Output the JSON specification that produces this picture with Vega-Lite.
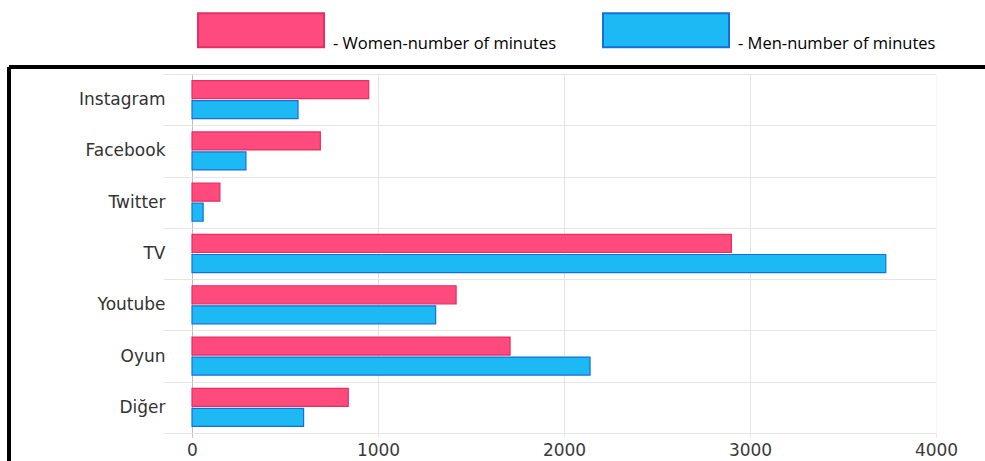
{
  "$schema": "https://vega.github.io/schema/vega-lite/v6.json",
  "autosize": "none",
  "padding": {"left": 9, "top": 67, "right": 0, "bottom": 0},
  "width": 976,
  "height": 394,
  "background": "white",
  "config": {
    "view": {"stroke": "black", "strokeWidth": 4, "strokeDash": [976, 1370, 394, 0]},
    "axis": {"labelFont": "DejaVu Sans", "titleFont": "DejaVu Sans"}
  },
  "data": {
    "values": [
      {"platform": "Instagram", "group": "Women-number of minutes", "minutes": 950},
      {"platform": "Instagram", "group": "Men-number of minutes", "minutes": 570},
      {"platform": "Facebook", "group": "Women-number of minutes", "minutes": 690},
      {"platform": "Facebook", "group": "Men-number of minutes", "minutes": 290},
      {"platform": "Twitter", "group": "Women-number of minutes", "minutes": 150},
      {"platform": "Twitter", "group": "Men-number of minutes", "minutes": 60},
      {"platform": "TV", "group": "Women-number of minutes", "minutes": 2900},
      {"platform": "TV", "group": "Men-number of minutes", "minutes": 3730},
      {"platform": "Youtube", "group": "Women-number of minutes", "minutes": 1420},
      {"platform": "Youtube", "group": "Men-number of minutes", "minutes": 1310},
      {"platform": "Oyun", "group": "Women-number of minutes", "minutes": 1710},
      {"platform": "Oyun", "group": "Men-number of minutes", "minutes": 2140},
      {"platform": "Diğer", "group": "Women-number of minutes", "minutes": 840},
      {"platform": "Diğer", "group": "Men-number of minutes", "minutes": 600}
    ]
  },
  "resolve": {"axis": {"x": "independent", "y": "independent"}},
  "layer": [
    {
      "mark": {"type": "bar", "strokeWidth": 1.2},
      "encoding": {
        "y": {
          "field": "platform",
          "type": "nominal",
          "sort": ["Instagram", "Facebook", "Twitter", "TV", "Youtube", "Oyun", "Diğer"],
          "scale": {"range": [7, 366], "paddingInner": 0, "paddingOuter": 0},
          "axis": {
            "orient": "left",
            "offset": -183,
            "title": null,
            "domain": false,
            "grid": false,
            "tickBand": "extent",
            "tickSize": 29,
            "tickColor": "#e6e6e6",
            "tickWidth": 1,
            "labelPadding": -2,
            "labelFontSize": 17,
            "labelColor": "#333333"
          }
        },
        "yOffset": {
          "field": "group",
          "type": "nominal",
          "sort": ["Women-number of minutes", "Men-number of minutes"],
          "scale": {"paddingInner": 0.1, "paddingOuter": 0.33}
        },
        "x": {
          "field": "minutes",
          "type": "quantitative",
          "scale": {"domain": [0, 4000], "range": [183, 927], "nice": false, "zero": true},
          "axis": {
            "orient": "bottom",
            "offset": -28,
            "title": null,
            "grid": false,
            "format": "d",
            "values": [0, 1000, 2000, 3000, 4000],
            "domain": true,
            "domainColor": "#e6e6e6",
            "tickSize": 4,
            "tickColor": {"condition": {"test": "datum.value === 0", "value": "#bdbdbd"}, "value": "#e6e6e6"},
            "labelPadding": 5,
            "labelFontSize": 17,
            "labelColor": "#3a3a3a",
            "labelFlush": false
          }
        },
        "color": {
          "field": "group",
          "type": "nominal",
          "scale": {
            "domain": ["Women-number of minutes", "Men-number of minutes"],
            "range": ["#ff4a7d", "#1db9f5"]
          },
          "legend": {
            "orient": "none",
            "legendX": 188,
            "legendY": -101,
            "direction": "horizontal",
            "title": null,
            "padding": 0,
            "symbolType": "M-1,-0.27H1V0.27H-1Z",
            "symbolSize": 15876,
            "symbolOpacity": 1,
            "symbolStrokeWidth": 2,
            "labelExpr": "'- ' + datum.label",
            "labelFont": "Open Sans",
            "labelFontSize": 16.5,
            "labelColor": "#000000",
            "labelOffset": 8,
            "labelLimit": 400,
            "labelBaseline": "middle",
            "columnPadding": 42,
            "encode": {
              "symbols": {"update": {"stroke": {"scale": "stroke", "field": "value"}}},
              "labels": {"update": {"dy": {"value": 14}}}
            }
          }
        },
        "stroke": {
          "field": "group",
          "type": "nominal",
          "scale": {
            "domain": ["Women-number of minutes", "Men-number of minutes"],
            "range": ["#e3305f", "#1470d8"]
          },
          "legend": null
        }
      }
    },
    {
      "mark": {"type": "bar", "opacity": 0},
      "encoding": {
        "y": {
          "field": "platform",
          "type": "nominal",
          "sort": ["Instagram", "Facebook", "Twitter", "TV", "Youtube", "Oyun", "Diğer"],
          "axis": {
            "orient": "right",
            "offset": -793,
            "title": null,
            "domain": false,
            "grid": false,
            "labels": false,
            "tickBand": "extent",
            "tickSize": 744,
            "tickColor": "#e6e6e6"
          }
        },
        "x": {
          "field": "minutes",
          "type": "quantitative",
          "axis": {
            "orient": "top",
            "offset": -366,
            "title": null,
            "domain": false,
            "grid": false,
            "labels": false,
            "values": [0, 1000, 2000, 3000, 4000],
            "tickSize": 359,
            "tickColor": {
              "condition": [
                {"test": "datum.value === 0", "value": "#bdbdbd"},
                {"test": "datum.value === 4000", "value": "#f6f6f6"}
              ],
              "value": "#e3e3e3"
            }
          }
        }
      }
    }
  ]
}
